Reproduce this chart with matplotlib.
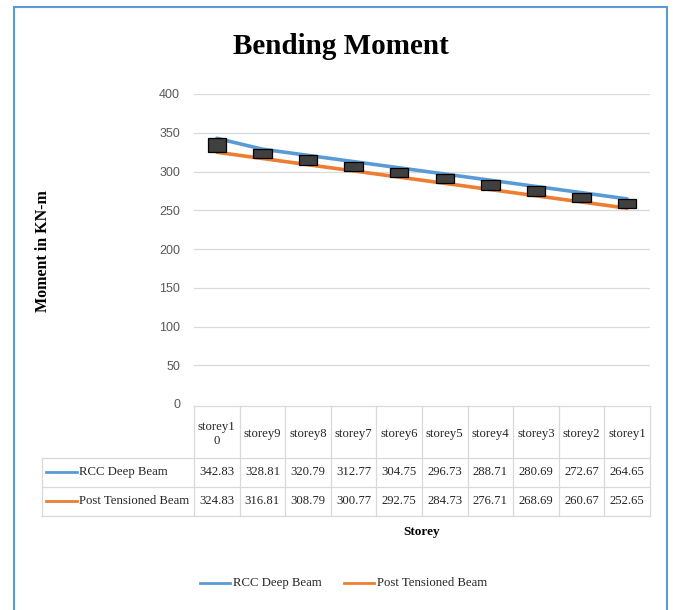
import matplotlib
matplotlib.use("Agg")
import matplotlib.pyplot as plt
import matplotlib.transforms as mtransforms
from matplotlib.lines import Line2D
from matplotlib.patches import Rectangle
import numpy as np

# Data
storeys = ["storey10", "storey9", "storey8", "storey7", "storey6",
           "storey5", "storey4", "storey3", "storey2", "storey1"]
rcc_deep = [342.83, 328.81, 320.79, 312.77, 304.75, 296.73, 288.71, 280.69, 272.67, 264.65]
post_tensioned = [324.83, 316.81, 308.79, 300.77, 292.75, 284.73, 276.71, 268.69, 260.67, 252.65]
series_names = ["RCC Deep Beam", "Post Tensioned Beam"]

BLUE = "#5B9BD5"
ORANGE = "#ED7D31"
GRID = "#D9D9D9"
SERIF = "Liberation Serif"

W, H = 673, 610
fig = plt.figure(figsize=(W / 100, H / 100), dpi=100)


def fx(px):
    return px / W


def fy(py):
    return 1 - py / H


ax = fig.add_axes([fx(194), fy(404), fx(650) - fx(194), fy(94) - fy(404)])

x = np.arange(len(storeys))
ax.plot(x, rcc_deep, color=BLUE, lw=2.6, solid_capstyle="round", zorder=3)
ax.plot(x, post_tensioned, color=ORANGE, lw=2.6, solid_capstyle="round", zorder=3)

# down bars between the two series
diff = np.array(rcc_deep) - np.array(post_tensioned)
ax.bar(x, diff, bottom=post_tensioned, width=0.4, color="#404040",
       edgecolor="black", linewidth=0.9, zorder=4)

ax.set_xlim(-0.5, len(storeys) - 0.5)
ax.set_ylim(0, 400)
ax.set_yticks(range(0, 401, 50))
ax.set_xticks([])
ax.tick_params(axis="y", length=0, pad=10, labelsize=9, labelcolor="#595959")
for lab in ax.get_yticklabels():
    lab.set_fontfamily("Liberation Sans")
ax.grid(axis="y", color=GRID, lw=0.9)
ax.set_axisbelow(True)
for s in ax.spines.values():
    s.set_visible(False)

# data table below the plot
tr = mtransforms.blended_transform_factory(ax.transData, fig.transFigure)
y_top, y_r1, y_r2, y_bot = fy(406), fy(458), fy(487), fy(516)
lkw = dict(color=GRID, lw=0.9, clip_on=False)
n = len(storeys)
ax.add_line(Line2D([-0.5, n - 0.5], [y_top, y_top], transform=tr, **lkw))
for yy in (y_r1, y_r2, y_bot):
    fig.add_artist(Line2D([fx(42), fx(650)], [yy, yy], **lkw))
for i in range(n + 1):
    ax.add_line(Line2D([i - 0.5, i - 0.5], [y_top, y_bot], transform=tr, **lkw))
fig.add_artist(Line2D([fx(42), fx(42)], [y_r1, y_bot], **lkw))

tkw = dict(fontfamily=SERIF, fontsize=9.2, color="#262626", ha="center", va="center")
for i, name in enumerate(storeys):
    label = name if len(name) <= 7 else name[:7] + "\n" + name[7:]
    ax.text(i, fy(434), label, transform=tr, linespacing=1.25, **tkw)
    ax.text(i, fy(472), f"{rcc_deep[i]:.2f}", transform=tr, **tkw)
    ax.text(i, fy(501), f"{post_tensioned[i]:.2f}", transform=tr, **tkw)

for name, col, yy in zip(series_names, [BLUE, ORANGE], [472, 501]):
    fig.add_artist(Line2D([fx(46), fx(77)], [fy(yy), fy(yy)], color=col, lw=2))
    fig.text(fx(79), fy(yy), name, fontfamily=SERIF, fontsize=9.2,
             color="#262626", ha="left", va="center")

# titles and labels
fig.text(fx(341), fy(47), "Bending Moment", fontfamily=SERIF, fontweight="bold",
         fontsize=21, ha="center", va="center", color="black")
fig.text(fx(43), fy(251), "Moment in KN-m", fontfamily=SERIF, fontweight="bold",
         fontsize=11.5, rotation=90, ha="center", va="center", color="black")
fig.text(fx(422), fy(532), "Storey", fontfamily=SERIF, fontweight="bold",
         fontsize=9.5, ha="center", va="center", color="black")

# bottom legend
for name, col, x0 in zip(series_names, [BLUE, ORANGE], [200, 344]):
    fig.add_artist(Line2D([fx(x0), fx(x0 + 30)], [fy(583), fy(583)], color=col, lw=2))
    fig.text(fx(x0 + 33), fy(583), name, fontfamily=SERIF, fontsize=9.2,
             color="#262626", ha="left", va="center")

# chart border
fig.add_artist(Rectangle((fx(14), fy(612)), fx(667) - fx(14), fy(7) - fy(612),
                         fill=False, edgecolor=BLUE, lw=1.5, clip_on=False))

fig.savefig("out.png", dpi=100)
